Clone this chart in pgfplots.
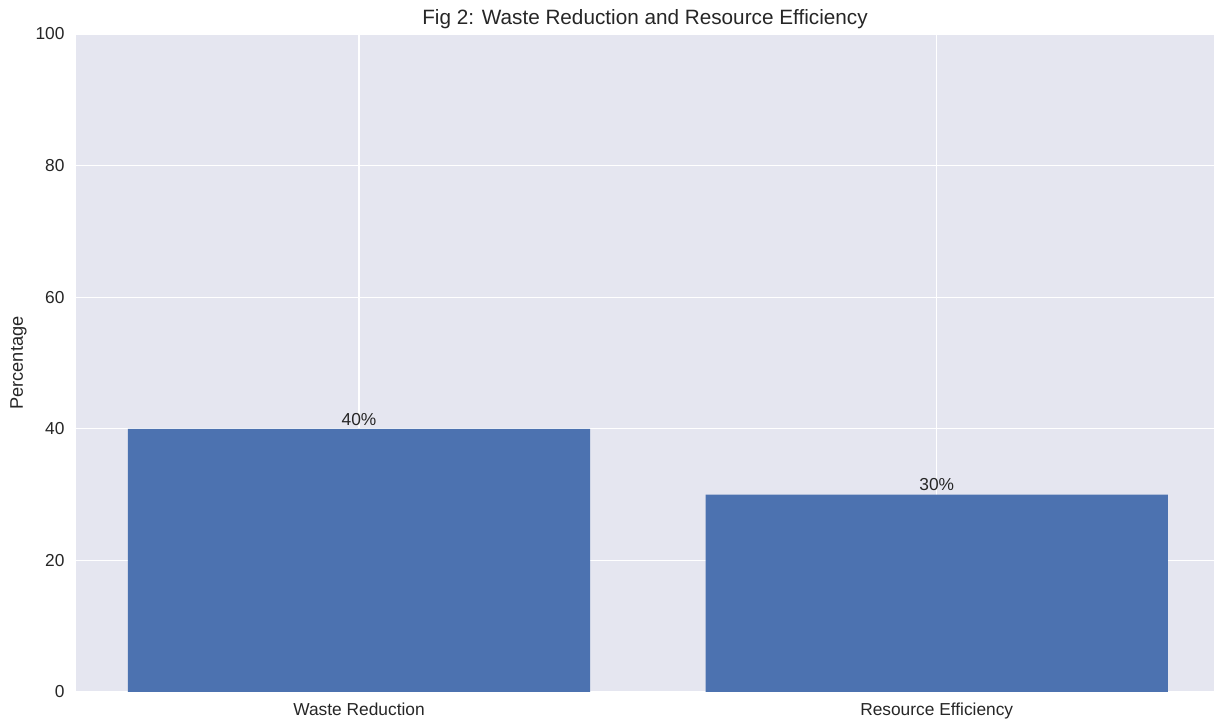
\documentclass[border=0pt]{standalone}
\usepackage{pgfplots}
\pgfplotsset{compat=1.18}
\usepackage{fontspec}
\setmainfont{Liberation Sans}
\definecolor{bg}{HTML}{E5E6F0}
\definecolor{barc}{HTML}{4C72B0}
\definecolor{txt}{HTML}{262626}
\begin{document}
\begin{tikzpicture}
\useasboundingbox (-76bp,-32bp) rectangle (1138bp,692bp);
\begin{axis}[
  at={(0,0)}, anchor=south west,
  scale only axis, width=1138bp, height=658bp,
  xmin=-0.49, xmax=1.48, ymin=0, ymax=100,
  axis background/.style={fill=bg},
  axis line style={draw=none},
  grid=major, major grid style={white, line width=1.3bp},
  xtick={0,1}, xticklabels={Waste Reduction, Resource Efficiency},
  ytick={0,20,40,60,80,100},
  major tick length=0pt,
  tick label style={font=\fontsize{17.4}{20}\selectfont, text=txt},
  /pgf/number format/assume math mode=true,
  xticklabel style={yshift=-7bp},
  yticklabel style={xshift=-8bp},
  ylabel={Percentage},
  ylabel style={font=\fontsize{18.3}{20}\selectfont, text=txt, yshift=2bp},
  title={Fig 2: Waste Reduction and Resource Efficiency},
  title style={font=\fontsize{20.8}{24}\selectfont, text=txt, yshift=-4bp},
  ybar, bar width=0.8,
  nodes near coords={\pgfmathprintnumber{\pgfplotspointmeta}\%},
  nodes near coords style={font=\fontsize{17.4}{20}\selectfont, text=txt, yshift=0bp},
]
\addplot[fill=barc, draw=none] coordinates {(0,40) (1,30)};
\end{axis}
\end{tikzpicture}
\end{document}
